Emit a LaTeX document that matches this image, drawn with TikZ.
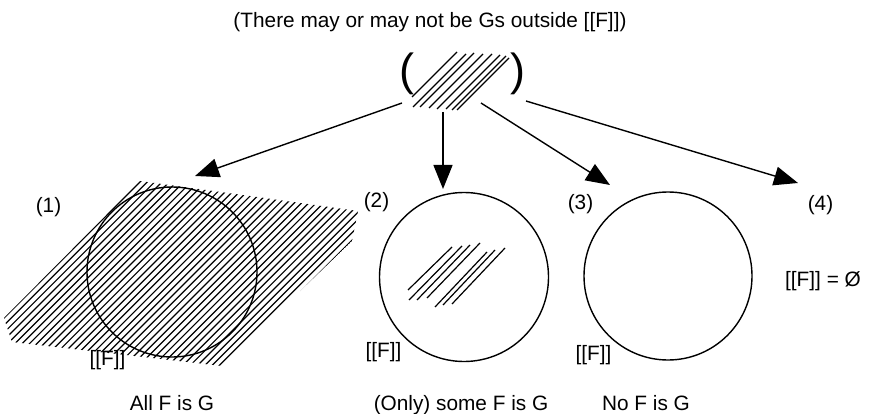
\documentclass[tikz,border=0pt]{standalone}
\usepackage{fontspec}
\setmainfont{Liberation Sans}
\usetikzlibrary{arrows.meta}
\begin{document}
\begin{tikzpicture}[x=1pt,y=-1pt,
  lbl/.style={anchor=base,inner sep=0pt,font=\fontsize{20.8}{25}\selectfont},
  paren/.style={inner sep=0pt,font=\fontsize{45}{50}\selectfont},
  ring/.style={circle,draw,line width=1.4pt,inner sep=0pt},
  hatch/.style={line width=1.2pt},
  arr/.style={line width=1.4pt,-{Triangle[length=24pt,width=19pt]}}]
\useasboundingbox (0,0) rectangle (872,414);

% title
\node[lbl] (title) at (430,28) {(There may or may not be Gs outside [[F]])};

% top parentheses with hatch
\node[paren] (lp) at (407,74) {(};
\node[paren] (rp) at (518,74) {)};
\draw[hatch] (412,97)--(457,52) (413,107)--(466,54) (420,107)--(474,53)
  (429,108)--(483,54) (437,109)--(492,54) (446,109)--(500,55)
  (452,110)--(506,56) (457,110)--(509,58);

% arrow start/end points
\coordinate (s1) at (402,103);
\coordinate (s2) at (443,112);
\coordinate (s3) at (481,103);
\coordinate (s4) at (526,101);
\coordinate (t1) at (195,176);
\coordinate (t2) at (443,189);
\coordinate (t3) at (610,185);
\coordinate (t4) at (798,183);
\draw[arr] (s1) -- (t1);
\draw[arr] (s2) -- (t2);
\draw[arr] (s3) -- (t3);
\draw[arr] (s4) -- (t4);

% case 1
\begin{scope}
  \clip (4,318) -- (140,181) -- (250,196) -- (358,211) -- (352,241) -- (222,366) -- (12,342) -- cycle;
  \foreach \u in {322,329.3,...,610} {
    \draw[hatch] (\u-400,400) -- (\u-100,100);
  }
\end{scope}
\node[ring,minimum size=170pt] (c1) at (172,272) {};
\node[lbl] (n1) at (48.5,212.6) {(1)};
\node[lbl] (f1) at (107.5,365.6) {[[F]]};
\node[lbl] (b1) at (172,410) {All F is G};

% case 2
\node[ring,minimum size=169pt] (c2) at (464,277) {};
\draw[hatch] (408,290)--(452,247) (409,300)--(462,246) (417,300)--(470,245)
  (427,298)--(480,243) (435,307)--(487,252) (443,305)--(495,250)
  (452,304)--(505,248);
\node[lbl] (n2) at (376.5,207.6) {(2)};
\node[lbl] (f2) at (383.5,357.6) {[[F]]};
\node[lbl] (b2) at (461,410) {(Only) some F is G};

% case 3
\node[ring,minimum size=168pt] (c3) at (668,276) {};
\node[lbl] (n3) at (580.5,209) {(3)};
\node[lbl] (f3) at (593.5,360.6) {[[F]]};
\node[lbl] (b3) at (646,410) {No F is G};

% case 4
\node[lbl] (n4) at (820.5,211) {(4)};
\node[lbl] (e4) at (823,286) {[[F]] = Ø};
\end{tikzpicture}
\end{document}
